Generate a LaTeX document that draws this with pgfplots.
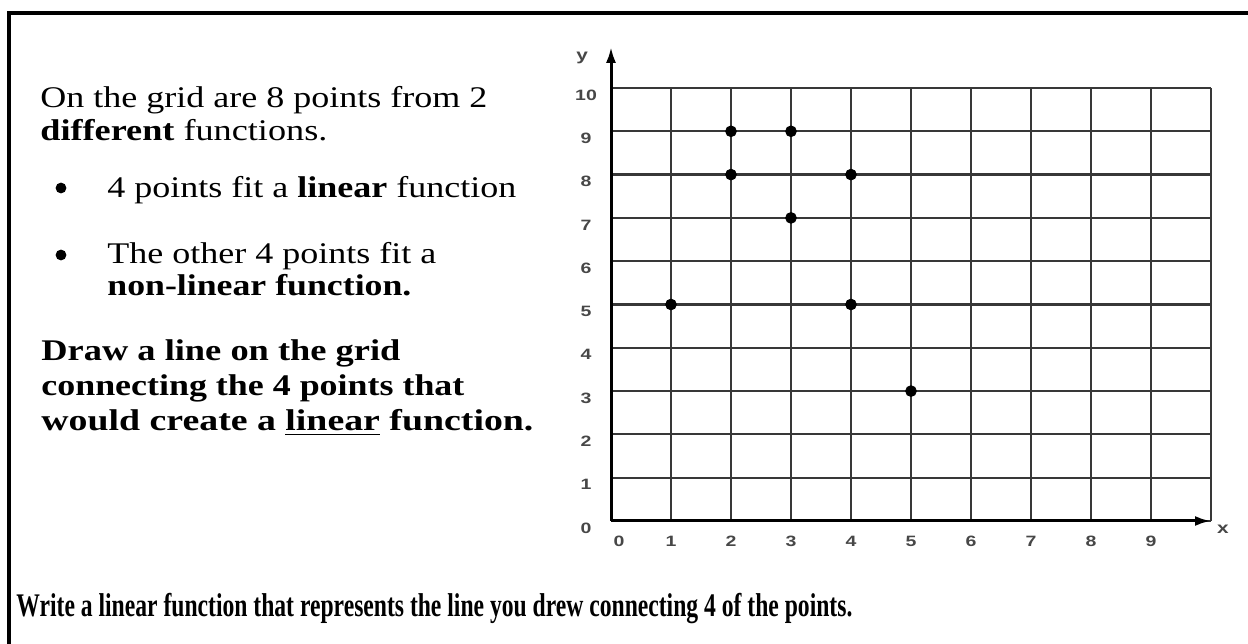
\documentclass[border=0pt]{standalone}
\usepackage{fontspec}
\setmainfont{Liberation Serif}
\setsansfont{Liberation Sans}
\usepackage{graphicx}
\usepackage{pgfplots}
\pgfplotsset{compat=1.18}
\usetikzlibrary{arrows.meta}

% one line of the worksheet text, set to a fixed width
\newcommand{\wline}[2]{\resizebox{#1}{\height}{\fontsize{15}{18}\selectfont #2}}
% widened sans-serif label on the grid
\newcommand{\gl}[1]{\scalebox{1.3}[1]{\bfseries #1}}

\begin{document}
\begin{tikzpicture}
\path[use as bounding box] (0,0) rectangle (624pt,321.5pt);

% frame of the worksheet item
\draw[line width=1.6pt] (4.5pt,-1pt) -- (4.5pt,315pt) -- (625pt,315pt);

% left-hand text
\node[anchor=base west, inner sep=0] at (20pt,267.5pt) {\wline{223.5pt}{On the grid are 8 points from 2}};
\node[anchor=base west, inner sep=0] at (20pt,251pt) {\wline{143.5pt}{\textbf{different} functions.}};
\node[circle, fill=black, inner sep=0, minimum size=5.4pt] at (30.5pt,227.5pt) {};
\node[anchor=base west, inner sep=0] at (53.5pt,222.5pt) {\wline{204.5pt}{4 points fit a \textbf{linear} function}};
\node[circle, fill=black, inner sep=0, minimum size=5.4pt] at (30.5pt,194pt) {};
\node[anchor=base west, inner sep=0] at (53.5pt,189.5pt) {\wline{164.5pt}{The other 4 points fit a}};
\node[anchor=base west, inner sep=0] at (53.5pt,173.5pt) {\wline{152pt}{\textbf{non-linear function.}}};
\node[anchor=base west, inner sep=0] at (20.5pt,141pt) {\wline{179.5pt}{\textbf{Draw a line on the grid}}};
\node[anchor=base west, inner sep=0] at (20.5pt,123.5pt) {\wline{211.5pt}{\textbf{connecting the 4 points that}}};
\node[anchor=base west, inner sep=0] at (20.5pt,106pt) {\wline{246pt}{\textbf{would create a \underline{linear} function.}}};

% question below the grid
\node[anchor=base west, inner sep=0] at (8pt,13.5pt) {\resizebox{418pt}{\height}{\fontsize{16.5}{19}\selectfont\bfseries Write a linear function that represents the line you drew connecting 4 of the points.}};

\begin{axis}[
  at={(305.5pt,61pt)}, anchor=south west,
  scale only axis, width=300pt, height=216.5pt,
  xmin=0, xmax=10, ymin=0, ymax=10,
  axis lines=left,
  x axis line style={line width=1.5pt, -{Latex[length=8pt,width=5pt]}},
  y axis line style={line width=1.5pt, -},
  xtick={0,1,2,3,4,5,6,7,8,9,10},
  ytick={0,1,2,3,4,5,6,7,8,9,10},
  xticklabels={{\hspace*{8pt}\gl{0}},\gl{1},\gl{2},\gl{3},\gl{4},\gl{5},\gl{6},\gl{7},\gl{8},\gl{9},{}},
  yticklabels={\gl{0},\gl{1},\gl{2},\gl{3},\gl{4},\gl{5},\gl{6},\gl{7},\gl{8},\gl{9},\gl{10}},
  major tick length=0pt,
  grid=major,
  grid style={line width=1.1pt, black!78},
  tick label style={font=\sffamily\fontsize{7.5}{9}\selectfont, text=black!72},
  xticklabel style={anchor=center, yshift=-10pt},
  yticklabel style={anchor=center, xshift=-12.5pt, yshift=-3.5pt},
  clip=false,
]
\addplot[only marks, mark=*, mark size=2.7pt, black]
  coordinates {(1,5) (2,9) (2,8) (3,9) (3,7) (4,8) (4,5) (5,3)};
% the y axis continues above the grid to its arrow
\draw[line width=1.5pt, -{Latex[length=8pt,width=5pt]}] (axis cs:0,9.9) -- (axis cs:0,10.95);
\node[font=\sffamily\fontsize{8}{9}\selectfont, text=black!72] at (axis cs:-0.48,10.7) {\gl{y}};
\node[font=\sffamily\fontsize{8}{9}\selectfont, text=black!72] at (axis cs:10.2,-0.18) {\gl{x}};
\end{axis}
\end{tikzpicture}
\end{document}
